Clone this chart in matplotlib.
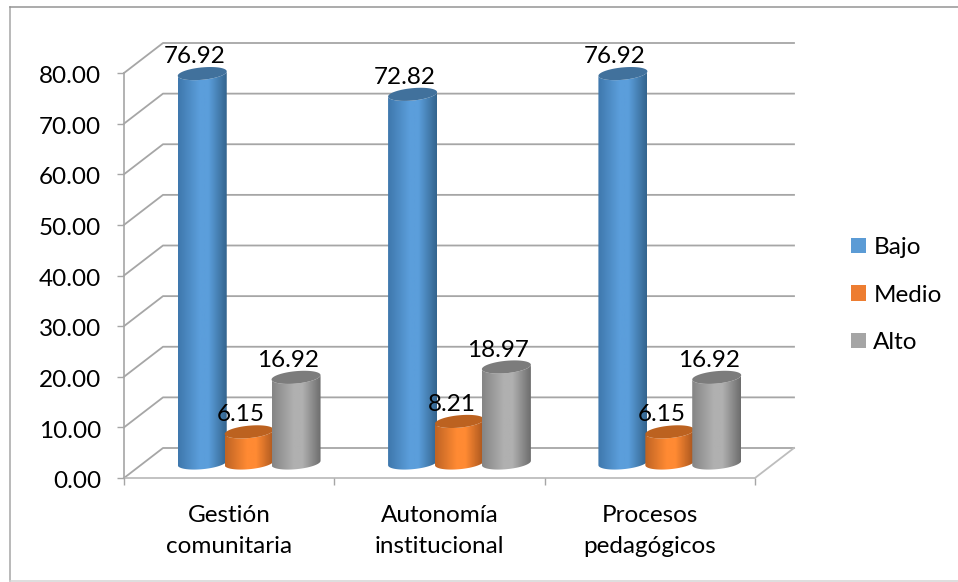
# -*- coding: utf-8 -*-
"""Cilindros 3D: niveles Bajo / Medio / Alto por dimension."""
import numpy as np
import matplotlib; matplotlib.use("Agg")
import matplotlib.pyplot as plt
from matplotlib.colors import LinearSegmentedColormap
from matplotlib.lines import Line2D
from matplotlib.patches import PathPatch, Patch
from matplotlib.path import Path
from matplotlib.transforms import ScaledTranslation

plt.rcParams["font.family"] = ["Lato", "DejaVu Sans"]

CATEGORIES = ["Gestión\ncomunitaria", "Autonomía\ninstitucional", "Procesos\npedagógicos"]
SERIES = ["Bajo", "Medio", "Alto"]
BAJO = [76.92, 72.82, 76.92]
MEDIO = [6.15, 8.21, 6.15]
ALTO = [16.92, 18.97, 16.92]
YTICKS = [0, 10, 20, 30, 40, 50, 60, 70, 80]

FLAT = ["#5B9BD5", "#ED7D31", "#A5A5A5"]
EDGE_L = ["#3F78AD", "#BF6424", "#858585"]
EDGE_R = ["#34658F", "#A9561E", "#6E6E6E"]
LIGHT = ["#5B9EDB", "#FF8A33", "#B0B0B0"]
TOP = ["#41719C", "#BC6220", "#7C7C7C"]
AXIS = "#A6A6A6"
FS = 17.5

W, H = 958, 582
fig = plt.figure(figsize=(W / 100, H / 100), dpi=100)


def frame(xs, ys, color):
    fig.add_artist(Line2D(np.array(xs) / W, 1 - np.array(ys) / H, transform=fig.transFigure, color=color, lw=1.1))


frame([9.5, 9.5], [6.5, 581], "#A6A6A6")
frame([9.5, W], [6.5, 6.5], "#949494")
frame([9.5, W], [581, 581], "#D4D4D4")

ax = fig.add_axes([124 / W, (H - 478) / H, 631 / W, 405 / H])
ax.set_xlim(0, 3); ax.set_ylim(0, 80)

# px -> unidades de datos
PX = 3 / 631; PY = 80 / 405
DX = 39 * PX; DY = 30 * PY          # profundidad del piso
BASE_Y = 15 * PY
RX = 24.5 * PX; RY = 6.2 * PY; TILT = 2.2 * PY
OFFS = [0.372, 0.595, 0.818]

for s in ["top", "right", "bottom"]:
    ax.spines[s].set_visible(False)
ax.spines["left"].set_color(AXIS); ax.spines["left"].set_linewidth(1.2)

# paredes
for v in YTICKS:
    ax.plot([0, DX, 3 + DX], [v, v + DY, v + DY], color=AXIS, lw=1.3, clip_on=False, zorder=1)
ax.plot([0, 3, 3 + DX], [0, 0, DY], color="#BDBDBD", lw=1.3, clip_on=False, zorder=1.1)

ax.set_yticks(YTICKS, [f"{v:.2f}" for v in YTICKS], fontsize=FS)
ax.tick_params(axis="y", length=5, width=1, color=AXIS, pad=11.5, labelcolor="black")
for lab in ax.get_yticklabels():
    lab.set_transform(lab.get_transform() + ScaledTranslation(0, -1.2 / 72, fig.dpi_scale_trans))
ax.set_xticks([0, 1, 2, 3], [""] * 4)
ax.tick_params(axis="x", which="major", length=5, width=1, color=AXIS)
ax.set_xticks([0.5, 1.5, 2.5], CATEGORIES, minor=True, fontsize=FS, linespacing=1.6, color="black")
ax.tick_params(axis="x", which="minor", length=0, pad=19.5)


def ell(cx, cy, t):
    return np.column_stack([cx + RX * np.cos(t), cy + RY * np.sin(t) + TILT * np.cos(t)])


def cylinder(cx, v, j, z):
    y0 = BASE_Y; y1 = v + BASE_Y
    t = np.linspace(np.pi, 2 * np.pi, 40)
    low = ell(cx, y0, t)
    up = ell(cx, y1, t[::-1])
    body = Path(np.vstack([low, up, low[:1]]), closed=True)
    cm = LinearSegmentedColormap.from_list("c", [EDGE_L[j], LIGHT[j], LIGHT[j], EDGE_R[j]])
    grad = cm(np.interp(np.linspace(0, 1, 60), [0, 0.45, 0.62, 1], [0, 0.34, 0.66, 1]))[None, :, :]
    im = ax.imshow(grad, extent=[cx - RX, cx + RX, y0 - RY - TILT, y1 + RY + TILT], aspect="auto",
                   zorder=z, interpolation="bilinear")
    patch = PathPatch(body, transform=ax.transData, fc="none", ec="none")
    im.set_clip_path(patch)
    im.set_clip_box(fig.bbox)
    ax.add_patch(PathPatch(Path(ell(cx, y1, np.linspace(0, 2 * np.pi, 60)), closed=True),
                           fc=TOP[j], ec="none", zorder=z + 0.1, clip_on=False))
    ax.annotate(f"{v:.2f}", (cx, y1), xytext=(-5.8, 12.2), textcoords="offset points", ha="center",
                va="center", fontsize=FS, color="black", annotation_clip=False, zorder=50)


z = 5
for j, vals in enumerate([BAJO, MEDIO, ALTO]):
    for i, v in enumerate(vals):
        cylinder(i + OFFS[j], v, j, z + i * 3 + j)

ax.set_xlim(0, 3); ax.set_ylim(0, 80)
ax.patch.set_visible(False)

handles = [Patch(fc=c, ec="none") for c in FLAT]
fig.legend(handles, SERIES, loc="center left", bbox_to_anchor=(851 / W, (H - 295) / H), frameon=False,
           fontsize=FS, handlelength=0.62, handleheight=0.62, handletextpad=0.3, labelspacing=1.09,
           borderpad=0, borderaxespad=0)

fig.savefig("out.png", dpi=100)
